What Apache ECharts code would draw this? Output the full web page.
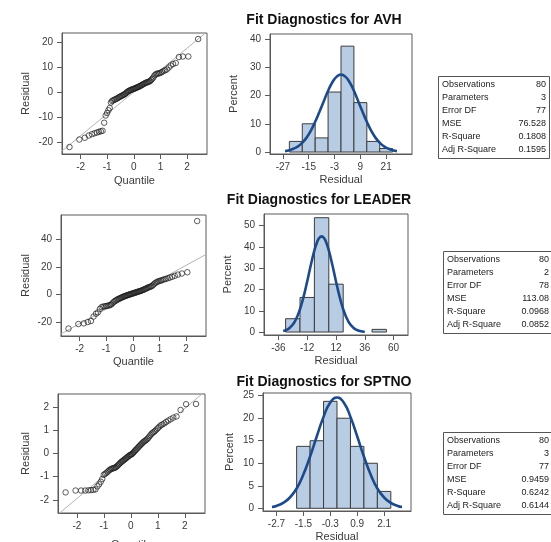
<!DOCTYPE html>
<html><head><meta charset="utf-8">
<script src="https://cdn.jsdelivr.net/npm/echarts@6/dist/echarts.min.js"></script>
<style>html,body{margin:0;padding:0;background:#fff}#c{width:551px;height:542px}</style>
</head><body><div id="c"></div>
<script>
// ---------- data ----------
const quantiles = [-2.418,-2.048,-1.843,-1.693,-1.575,-1.475,-1.388,-1.311,-1.240,-1.175,-1.115,-1.059,-1.005,-0.955,-0.907,-0.861,-0.817,-0.774,-0.732,-0.692,-0.652,-0.614,-0.577,-0.540,-0.504,-0.469,-0.435,-0.401,-0.367,-0.334,-0.301,-0.269,-0.237,-0.204,-0.172,-0.141,-0.110,-0.078,-0.047,-0.016,
0.016,0.047,0.078,0.110,0.141,0.172,0.204,0.237,0.269,0.301,0.334,0.367,0.401,0.435,0.469,0.504,0.540,0.577,0.614,0.652,0.692,0.732,0.774,0.817,0.861,0.907,0.955,1.005,1.059,1.115,1.175,1.240,1.311,1.388,1.475,1.575,1.693,1.843,2.048,2.418];

const residAVH = [-22.0,-19.0,-18.3,-17.4,-16.9,-16.5,-16.2,-15.9,-15.7,-15.5,
-12.3,-9.4,-8.4,-7.3,-6.4,-4.2,-3.6,-3.3,-3.1,-2.9,
-2.7,-2.5,-2.2,-2.0,-1.8,-1.6,-1.4,-1.2,-1.0,-0.8,
-0.5,-0.2,0.1,0.3,0.5,0.7,0.8,1.0,1.1,1.2,
1.3,1.5,1.6,1.8,1.9,2.1,2.2,2.4,2.6,2.8,
3.0,3.2,3.4,3.6,3.8,3.9,4.0,4.2,4.4,4.8,
5.3,5.8,6.6,7.0,7.3,7.4,7.5,7.7,8.0,8.4,
8.7,9.0,9.8,10.6,11.2,11.6,14.0,14.2,14.2,21.2];

const residLEADER = [-24.8,-21.5,-21.0,-20.0,-19.3,-16.0,-14.0,-13.0,-10.5,-9.2,
-8.8,-8.6,-8.4,-8.2,-8.0,-7.7,-7.3,-6.6,-5.6,-5.0,
-4.5,-4.0,-3.6,-3.2,-2.9,-2.6,-2.3,-2.0,-1.7,-1.4,
-1.2,-1.0,-0.7,-0.5,-0.3,-0.1,0.1,0.3,0.5,0.7,
0.9,1.1,1.3,1.5,1.7,1.9,2.1,2.3,2.5,2.7,
3.0,3.2,3.5,3.8,4.1,4.4,4.8,5.1,5.4,5.7,
5.9,6.4,7.2,8.0,8.6,9.1,9.6,9.9,10.2,10.6,
11.0,11.4,11.8,12.3,12.9,13.6,14.5,15.3,16.2,53.5];

const residSPTNO = [-1.68,-1.60,-1.60,-1.60,-1.59,-1.58,-1.57,-1.55,-1.42,-1.33,
-1.22,-1.10,-0.92,-0.88,-0.84,-0.79,-0.74,-0.70,-0.67,-0.65,
-0.64,-0.62,-0.61,-0.58,-0.54,-0.50,-0.46,-0.42,-0.38,-0.35,
-0.32,-0.29,-0.26,-0.23,-0.20,-0.17,-0.14,-0.11,-0.08,-0.06,
-0.04,-0.02,0.02,0.06,0.10,0.14,0.18,0.22,0.26,0.30,
0.34,0.38,0.42,0.46,0.50,0.53,0.56,0.59,0.63,0.68,
0.74,0.80,0.86,0.90,0.94,0.98,1.04,1.10,1.16,1.22,
1.26,1.30,1.36,1.42,1.48,1.55,1.60,1.88,2.13,2.14];

const refLineAVH = [[-2.7,-23.6],[2.75,24.1]];
const refLineLEADER = [[-2.7,-28.7],[2.75,29.2]];
const refLineSPTNO = [[-2.7,-2.63],[2.75,2.68]];

const binMidAVH = [-21,-15,-9,-3,3,9,15,21];
const binPctAVH = [3.75,10,5,21.25,37.5,17.5,3.75,1.25];
const binWidthAVH = 6;
const binMidLEADER = [-24,-12,0,12,24,36,48];
const binPctLEADER = [6.25,16.25,53.75,22.5,0,0,1.25];
const binWidthLEADER = 12;
const binMidSPTNO = [-1.5,-0.9,-0.3,0.3,0.9,1.5,2.1];
const binPctSPTNO = [13.75,15,23.75,20,13.75,10,3.75];
const binWidthSPTNO = 0.6;

const curveXAVH = [-26,-24,-22,-20,-18,-16,-14,-12,-10,-8,-6,-4,-2,0,2,4,6,8,10,12,14,16,18,20,22,24,26];
const curveYAVH = [0.33,0.64,1.2,2.0,3.3,5.1,7.6,10.7,14.3,18.0,21.7,24.7,26.7,27.4,26.7,24.7,21.7,18.0,14.3,10.7,7.6,5.1,3.3,2.0,1.2,0.64,0.33];
const curveXLEADER = [-32,-30,-28,-26,-24,-22,-20,-18,-16,-14,-12,-10,-8,-6,-4,-2,0,2,4,6,8,10,12,14,16,18,20,22,24,26,28,30,32,34,36];
const curveYLEADER = [0.48,0.84,1.4,2.3,3.5,5.3,7.7,10.7,14.5,18.9,23.8,28.9,33.9,38.4,41.9,44.2,45.0,44.2,41.9,38.4,33.9,28.9,23.8,18.9,14.5,10.7,7.7,5.3,3.5,2.3,1.4,0.84,0.48,0.27,0.15];
const curveXSPTNO = [-2.9,-2.7,-2.4,-2.1,-1.8,-1.5,-1.2,-0.9,-0.6,-0.3,0,0.3,0.6,0.9,1.2,1.5,1.8,2.1,2.4,2.7,2.9];
const curveYSPTNO = [0.28,0.52,1.2,2.4,4.4,7.5,11.5,16.0,20.3,23.5,24.6,23.5,20.3,16.0,11.5,7.5,4.4,2.4,1.2,0.52,0.28];

const qqXTicks = [-2,-1,0,1,2];
const qqYTicksAVH = [-20,-10,0,10,20];
const qqYTicksLEADER = [-20,0,20,40];
const qqYTicksSPTNO = [-2,-1,0,1,2];
const histXTicksAVH = [-27,-15,-3,9,21];
const histYTicksAVH = [0,10,20,30,40];
const histXTicksLEADER = [-36,-12,12,36,60];
const histYTicksLEADER = [0,10,20,30,40,50];
const histXTicksSPTNO = [-2.7,-1.5,-0.3,0.9,2.1];
const histYTicksSPTNO = [0,5,10,15,20,25];

const titles = ['Fit Diagnostics for AVH','Fit Diagnostics for LEADER','Fit Diagnostics for SPTNO'];
const statLabels = ['Observations','Parameters','Error DF','MSE','R-Square','Adj R-Square'];
const statsAVH = ['80','3','77','76.528','0.1808','0.1595'];
const statsLEADER = ['80','2','78','113.08','0.0968','0.0852'];
const statsSPTNO = ['80','3','77','0.9459','0.6242','0.6144'];

// ---------- layout / style ----------
const FONT = 'Liberation Sans, Arial, sans-serif';
const FRAME = '#5a5a5a';
const grids = [
  {left:62, top:33, width:145, height:121},
  {left:270, top:34, width:142, height:120},
  {left:61, top:215, width:145, height:121},
  {left:264, top:214, width:144, height:121},
  {left:58, top:394, width:147, height:119},
  {left:263, top:393, width:148, height:118}
].map(g => Object.assign({show:true, borderColor:FRAME, borderWidth:1, backgroundColor:'transparent', containLabel:false, outerBoundsMode:'none'}, g));

function axis(kind, gi, min, max, ticks, name, gap){
  return {
    gridIndex:gi, type:'value', min:min, max:max, scale:true,
    axisLine:{show:true, onZero:false, lineStyle:{color:FRAME, width:1}},
    axisTick:{show:true, length:5, customValues:ticks, lineStyle:{color:FRAME}},
    axisLabel:{customValues:ticks, fontSize:10, color:'#3a3a3a', fontFamily:FONT, margin:kind==='x'?8:9},
    splitLine:{show:false},
    name:name, nameLocation:'middle', nameGap:gap, nameMoveOverlap:false,
    nameTextStyle:{fontSize:11, color:'#3a3a3a', fontFamily:FONT}
  };
}

const xAxes = [
  axis('x',0,-2.7,2.75,qqXTicks,'Quantile',21),
  axis('x',1,-33,33,histXTicksAVH,'Residual',20),
  axis('x',2,-2.7,2.75,qqXTicks,'Quantile',20),
  axis('x',3,-48,72,histXTicksLEADER,'Residual',20),
  axis('x',4,-2.7,2.75,qqXTicks,'Quantile',26),
  axis('x',5,-3.3,3.3,histXTicksSPTNO,'Residual',20)
];
const yAxes = [
  axis('y',0,-24.8,23.6,qqYTicksAVH,'Residual',31),
  axis('y',1,-0.7,41.8,histYTicksAVH,'Percent',31),
  axis('y',2,-30.2,57.9,qqYTicksLEADER,'Residual',30),
  axis('y',3,-1.4,55.5,histYTicksLEADER,'Percent',31),
  axis('y',4,-2.57,2.57,qqYTicksSPTNO,'Residual',27),
  axis('y',5,-0.6,25.6,histYTicksSPTNO,'Percent',28)
];

function qqSeries(idx, resid, ref){
  return [
    {type:'line', xAxisIndex:idx, yAxisIndex:idx, data:ref, symbol:'none', silent:true,
     lineStyle:{color:'#b4b4b4', width:1}, z:2},
    {type:'scatter', xAxisIndex:idx, yAxisIndex:idx, silent:true,
     data:quantiles.map((q,i)=>[q,resid[i]]), symbol:'circle', symbolSize:5.5,
     itemStyle:{color:'rgba(255,255,255,0)', borderColor:'#1e1e1e', borderWidth:0.9}, z:3}
  ];
}
function histSeries(idx, mids, pcts, w, cx, cy){
  return [
    {type:'custom', xAxisIndex:idx, yAxisIndex:idx, silent:true,
     data:mids.map((m,i)=>[m,pcts[i],w]),
     encode:{x:0,y:1},
     renderItem:function(params, api){
       const m = api.value(0), h = api.value(1), bw = api.value(2);
       if (!h) return null;
       const p0 = api.coord([m-bw/2, h]);
       const p1 = api.coord([m+bw/2, 0]);
       return {type:'rect', shape:{x:p0[0], y:p0[1], width:p1[0]-p0[0], height:p1[1]-p0[1]},
               style:{fill:'#b8cce4', stroke:'#3c3c3c', lineWidth:1}};
     }, z:2},
    {type:'line', xAxisIndex:idx, yAxisIndex:idx, silent:true, smooth:true,
     data:cx.map((x,i)=>[x,cy[i]]), symbol:'none',
     lineStyle:{color:'#1d4b8a', width:2.6}, z:3}
  ];
}

function table(x, y, w, vals, valRight){
  const rowH = 13;
  const children = [{type:'rect', shape:{x:0.5, y:0.5, width:w, height:rowH*6+4},
    style:{fill:'#fff', stroke:'#555', lineWidth:1}}];
  statLabels.forEach((l,i)=>{
    children.push({type:'text', x:4, y:2.5+rowH*i+rowH/2,
      style:{text:l, fontSize:9, fontFamily:FONT, fill:'#222', align:'left', verticalAlign:'middle'}});
    children.push({type:'text', x:valRight, y:2.5+rowH*i+rowH/2,
      style:{text:vals[i], fontSize:9, fontFamily:FONT, fill:'#222', align:'right', verticalAlign:'middle'}});
  });
  return {type:'group', x:x, y:y, children:children};
}
function titleText(t, x, y){
  return {type:'text', x:x, y:y, style:{text:t, fontSize:14, fontWeight:'bold', fontFamily:FONT,
    fill:'#111', align:'center', verticalAlign:'middle'}};
}

const chart = echarts.init(document.getElementById('c'), null, {renderer:'canvas'});
chart.setOption({
  animation:false,
  backgroundColor:'#fff',
  grid:grids,
  xAxis:xAxes,
  yAxis:yAxes,
  series:[].concat(
    qqSeries(0, residAVH, refLineAVH),
    histSeries(1, binMidAVH, binPctAVH, binWidthAVH, curveXAVH, curveYAVH),
    qqSeries(2, residLEADER, refLineLEADER),
    histSeries(3, binMidLEADER, binPctLEADER, binWidthLEADER, curveXLEADER, curveYLEADER),
    qqSeries(4, residSPTNO, refLineSPTNO),
    histSeries(5, binMidSPTNO, binPctSPTNO, binWidthSPTNO, curveXSPTNO, curveYSPTNO)
  ),
  graphic:[
    titleText(titles[0], 324, 20),
    titleText(titles[1], 319, 200),
    titleText(titles[2], 324, 382),
    table(438, 76, 111, statsAVH, 108),
    table(443, 251, 112, statsLEADER, 106),
    table(443, 432, 112, statsSPTNO, 106)
  ]
});
</script>
</body></html>
